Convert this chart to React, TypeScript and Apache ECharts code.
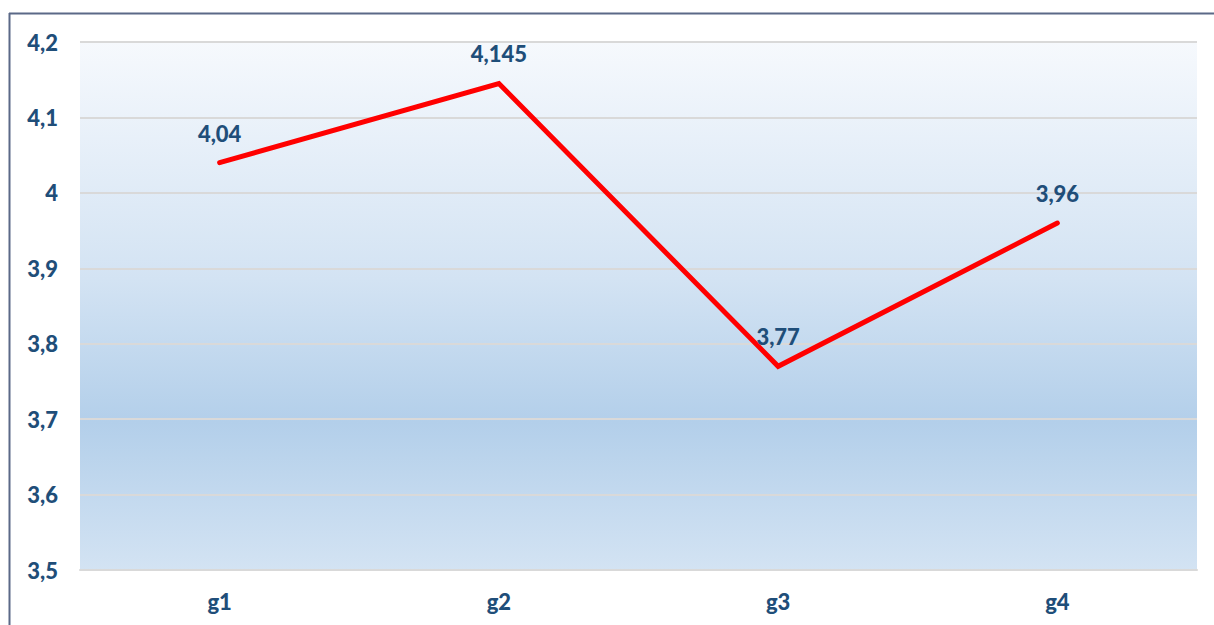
import React, { useEffect, useRef } from "react";
import * as echarts from "echarts";

const categories = ["g1", "g2", "g3", "g4"];
const values = [4.04, 4.145, 3.77, 3.96];
const yMin = 3.5;
const yMax = 4.2;
const yInterval = 0.1;

const labelColor = "#1f4e79";
const fmt = (v: number) => String(Number(v.toFixed(3))).replace(".", ",");

export default function App() {
  const ref = useRef<HTMLDivElement>(null);
  useEffect(() => {
    document.body.style.margin = "0";
    const chart = echarts.init(ref.current!, null, { renderer: "svg" });
    chart.setOption({
      animation: false,
      backgroundColor: "#ffffff",
      grid: {
        left: 80,
        right: 17,
        top: 42,
        bottom: 55,
        show: true,
        borderWidth: 0,
        backgroundColor: new echarts.graphic.LinearGradient(0, 0, 0, 1, [
          { offset: 0, color: "#f6f9fd" },
          { offset: 0.45, color: "#d3e3f3" },
          { offset: 0.72, color: "#b3cfea" },
          { offset: 1, color: "#d3e3f3" },
        ]),
      },
      xAxis: {
        type: "category",
        data: categories,
        boundaryGap: true,
        axisLine: { show: true, lineStyle: { color: "#d9d9d9", width: 2 } },
        axisTick: { show: false },
        axisLabel: {
          color: labelColor,
          fontFamily: "Lato",
          fontWeight: 900,
          fontSize: 22,
          margin: 20,
        },
      },
      yAxis: {
        type: "value",
        min: yMin,
        max: yMax,
        interval: yInterval,
        axisLine: { show: false },
        axisTick: { show: false },
        splitLine: { lineStyle: { color: "#d9d9d9", width: 2 } },
        axisLabel: {
          color: labelColor,
          fontFamily: "Lato",
          fontWeight: 900,
          fontSize: 22,
          margin: 22,
          formatter: (v: number) => fmt(v),
        },
      },
      series: [
        {
          type: "line",
          data: values,
          symbol: "circle",
          symbolSize: 1,
          showSymbol: true,
          itemStyle: { color: "#ff0000" },
          lineStyle: { color: "#ff0000", width: 5, cap: "round", join: "miter" },
          label: {
            show: true,
            position: "top",
            distance: 18,
            color: labelColor,
            fontFamily: "Lato",
            fontWeight: 900,
            fontSize: 22,
            formatter: (p: any) => fmt(p.value),
          },
        },
      ],
      graphic: [
        {
          type: "line",
          shape: { x1: 9, y1: 13.5, x2: 1214, y2: 13.5 },
          style: { stroke: "#5b6987", lineWidth: 2 },
        },
        {
          type: "line",
          shape: { x1: 9.5, y1: 13, x2: 9.5, y2: 625 },
          style: { stroke: "#5b6987", lineWidth: 2 },
        },
      ],
    });
    return () => chart.dispose();
  }, []);
  return <div ref={ref} style={{ width: 1214, height: 625 }} />;
}
